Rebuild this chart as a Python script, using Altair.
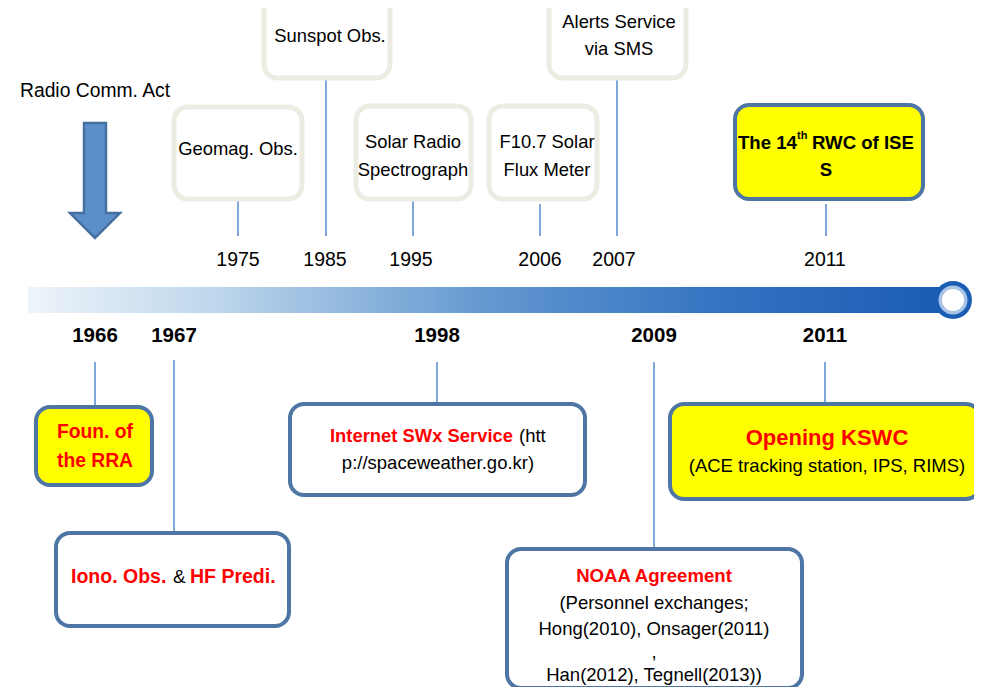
import altair as alt
import pandas as pd

# ---------------- data ----------------
top_years = ["1975", "1985", "1995", "2006", "2007", "2011"]
bottom_years = ["1966", "1967", "1998", "2009", "2011"]
top_events = ["Geomag. Obs.", "Sunspot Obs.", ["Solar Radio", "Spectrograph"],
              ["F10.7 Solar", "Flux Meter"], ["Alerts Service", "via SMS"]]
intro_label = "Radio Comm. Act"
rwc_parts = ["The 14", "th", "RWC of ISE", "S"]
foun_lines = ["Foun. of", "the RRA"]
iono_parts = ["Iono. Obs.", "&", "HF Predi."]
internet_parts = ["Internet SWx Service", "(htt", "p://spaceweather.go.kr)"]
noaa_lines = ["NOAA Agreement", "(Personnel exchanges;", "Hong(2010), Onsager(2011)", ",",
              "Han(2012), Tegnell(2013))"]
kswc_lines = ["Opening KSWC", "(ACE tracking station, IPS, RIMS)"]

# ---------------- layout (page pixel coordinates) ----------------
top_year_x = [238, 325, 411, 540, 614, 825]
top_year_y = 260
bottom_year_x = [95, 174, 437, 654, 825]
bottom_year_y = 336

RED, BLACK = "#ff0000", "#000000"
REG = "Liberation Sans"
LINE = "#5f93d1"
BOXBLUE = "#4d76a4"
BOXGREY = "#ecece3"
YELLOW = "#ffff00"

W, H = 966, 679
XS = alt.Scale(domain=[8, 8 + W], nice=False, zero=False)
YS = alt.Scale(domain=[8, 8 + H], nice=False, zero=False, reverse=True)


def X(f="x"):
    return alt.X(f"{f}:Q", scale=XS, axis=None)


def Y(f="y"):
    return alt.Y(f"{f}:Q", scale=YS, axis=None)


# boxes: x, x2, y, y2, fill, stroke, stroke width
boxes = pd.DataFrame([
    (264, 390, -20, 78, "white", BOXGREY, 5),
    (174, 302, 107, 199, "white", BOXGREY, 5),
    (356, 471, 106, 199, "white", BOXGREY, 5),
    (489, 597, 106, 199, "white", BOXGREY, 5),
    (549, 686, -20, 78, "white", BOXGREY, 5),
    (735, 923, 105, 199, YELLOW, BOXBLUE, 4),
    (36, 152, 407, 485, YELLOW, BOXBLUE, 4),
    (56, 289, 533, 626, "white", BOXBLUE, 4),
    (290, 585, 404, 495, "white", BOXBLUE, 4),
    (507, 802, 549, 688, "white", BOXBLUE, 4),
    (670, 980, 404, 499, YELLOW, BOXBLUE, 4),
], columns=["x", "x2", "y", "y2", "fill", "stroke", "sw"])

connectors = pd.DataFrame([
    (238, 201, 236), (326, 80, 236), (413, 200, 236), (540, 204, 236),
    (617, 80, 236), (826, 204, 236),
    (95, 362, 405), (174, 360, 531), (437, 362, 402), (654, 362, 547), (825, 362, 402),
], columns=["x", "y", "y2"])

bar = pd.DataFrame({"x": [28], "x2": [945], "y": [287], "y2": [313]})
knob = pd.DataFrame({"x": [953, 953, 953], "y": [300, 300, 300],
                     "size": [38 ** 2, 29 ** 2, 22 ** 2],
                     "fill": ["#1c5db4", "#a9c3e6", "white"]})
arrow = pd.DataFrame({"x": [95], "y": [180.5]})
speck = pd.DataFrame({"x": [271], "x2": [277], "y": [0], "y2": [7]})

# text pieces: text, x, y, size, color, weight, align
pieces = [
    (intro_label, 20, 91, 19.3, BLACK, "normal", "left"),
    (top_events[1], 330, 36, 18.4, BLACK, "normal", "center"),
    (top_events[0], 238, 149, 18.4, BLACK, "normal", "center"),
    (top_events[2][0], 413, 142, 18.4, BLACK, "normal", "center"),
    (top_events[2][1], 413, 170, 18.4, BLACK, "normal", "center"),
    (top_events[3][0], 547, 142, 18.4, BLACK, "normal", "center"),
    (top_events[3][1], 547, 170, 18.4, BLACK, "normal", "center"),
    (top_events[4][0], 619, 22, 18.4, BLACK, "normal", "center"),
    (top_events[4][1], 619, 48.5, 18.4, BLACK, "normal", "center"),
    (rwc_parts[0], 738, 143, 18.6, BLACK, "bold", "left"),
    (rwc_parts[1], 797, 136, 11, BLACK, "bold", "left"),
    (rwc_parts[2], 812, 143, 18.6, BLACK, "bold", "left"),
    (rwc_parts[3], 826, 170, 18.6, BLACK, "bold", "center"),
    (foun_lines[0], 95, 432, 19.3, RED, "bold", "center"),
    (foun_lines[1], 95, 461, 19.3, RED, "bold", "center"),
    (iono_parts[0], 71, 577, 19.5, RED, "bold", "left"),
    (iono_parts[1], 173, 577, 19, BLACK, "normal", "left"),
    (iono_parts[2], 190, 577, 19.5, RED, "bold", "left"),
    (internet_parts[0], 330, 436, 18.4, RED, "bold", "left"),
    (internet_parts[1], 519, 436, 18.5, BLACK, "normal", "left"),
    (internet_parts[2], 438, 463, 18.5, BLACK, "normal", "center"),
    (noaa_lines[0], 654, 576, 18.6, RED, "bold", "center"),
    (noaa_lines[1], 654, 603, 18.5, BLACK, "normal", "center"),
    (noaa_lines[2], 654, 629, 18.5, BLACK, "normal", "center"),
    (noaa_lines[3], 654, 652, 18.5, BLACK, "normal", "center"),
    (noaa_lines[4], 654, 675, 18.5, BLACK, "normal", "center"),
    (kswc_lines[0], 827, 438, 22, RED, "bold", "center"),
    (kswc_lines[1], 827, 466, 18.5, BLACK, "normal", "center"),
]
for yr, xx in zip(top_years, top_year_x):
    pieces.append((yr, xx, top_year_y, 19.5, BLACK, "normal", "center"))
for yr, xx in zip(bottom_years, bottom_year_x):
    pieces.append((yr, xx, bottom_year_y, 20.5, BLACK, "bold", "center"))

texts = pd.DataFrame(pieces, columns=["text", "x", "y", "size", "color", "weight", "align"])

# ---------------- layers ----------------
layers = []

layers.append(alt.Chart(bar).mark_rect(
    fill=alt.Gradient(gradient="linear", x1=0, x2=1, y1=0, y2=0, stops=[
        alt.GradientStop(offset=0, color="#eef4fa"),
        alt.GradientStop(offset=0.2, color="#bfd7ec"),
        alt.GradientStop(offset=0.5, color="#6398d0"),
        alt.GradientStop(offset=0.75, color="#3574c2"),
        alt.GradientStop(offset=1, color="#1a5cb4"),
    ])).encode(x=X(), x2="x2:Q", y=Y(), y2="y2:Q"))

layers.append(alt.Chart(knob).mark_point(filled=True, shape="circle", opacity=1).encode(
    x=X(), y=Y(), size=alt.Size("size:Q", scale=None), fill=alt.Fill("fill:N", scale=None)))

layers.append(alt.Chart(connectors).mark_rule(color=LINE, strokeWidth=1.6).encode(
    x=X(), y=Y(), y2="y2:Q"))

layers.append(alt.Chart(boxes).mark_rect(cornerRadius=14).encode(
    x=X(), x2="x2:Q", y=Y(), y2="y2:Q",
    fill=alt.Fill("fill:N", scale=None),
    stroke=alt.Stroke("stroke:N", scale=None),
    strokeWidth=alt.StrokeWidth("sw:Q", scale=None)))

layers.append(alt.Chart(speck).mark_rect(color="#111111").encode(
    x=X(), x2="x2:Q", y=Y(), y2="y2:Q"))

arrow_path = ("M -0.191 -1 L 0.191 -1 L 0.191 0.565 L 0.435 0.565 L 0 1 "
              "L -0.435 0.565 L -0.191 0.565 Z")
layers.append(alt.Chart(arrow).mark_point(
    shape=arrow_path, filled=True, fill="#5b8fc9", stroke="#43709f", strokeWidth=2.5,
    opacity=1, size=115 ** 2).encode(x=X(), y=Y()))

for (weight, align), grp in texts.groupby(["weight", "align"]):
    layers.append(alt.Chart(grp).mark_text(
        font=REG, fontWeight=weight, align=align, baseline="middle").encode(
        x=X(), y=Y(), text="text:N",
        size=alt.Size("size:Q", scale=None),
        color=alt.Color("color:N", scale=None)))

chart = alt.layer(*layers).properties(
    width=W, height=H, padding=0, background="white",
    autosize=alt.AutoSizeParams(type="none"),
).configure_view(strokeWidth=0)

chart.save("out.html", embed_options={"renderer": "svg", "actions": False})
